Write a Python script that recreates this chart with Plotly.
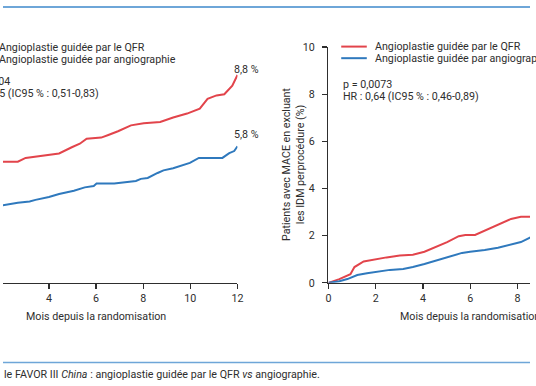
import plotly.graph_objects as go

W, H = 536, 386

# ---- data (months, %) ----
left_qfr_x = [2.0, 2.68, 3.01, 4.43, 4.97, 5.31, 5.60, 6.22, 6.52, 6.93, 7.48, 8.02, 8.72, 9.27, 9.86, 10.40, 10.73, 11.11, 11.44, 11.78, 12.0]
left_qfr_y = [5.14, 5.14, 5.30, 5.49, 5.75, 5.90, 6.11, 6.16, 6.27, 6.43, 6.68, 6.77, 6.82, 7.01, 7.18, 7.39, 7.80, 7.95, 8.00, 8.36, 8.82]

left_angio_x = [2.0, 2.68, 3.18, 3.43, 4.0, 4.43, 5.06, 5.52, 5.90, 6.02, 6.77, 7.19, 7.69, 7.90, 8.19, 8.61, 8.86, 9.27, 9.98, 10.36, 11.36, 11.65, 11.86, 12.0]
left_angio_y = [3.28, 3.40, 3.45, 3.52, 3.64, 3.77, 3.91, 4.05, 4.11, 4.21, 4.21, 4.27, 4.32, 4.41, 4.45, 4.66, 4.77, 4.86, 5.09, 5.30, 5.30, 5.50, 5.59, 5.79]

right_qfr_x = [0, 0.46, 0.93, 1.10, 1.49, 1.98, 2.46, 3.02, 3.57, 4.06, 4.54, 5.02, 5.51, 5.79, 6.20, 6.61, 7.17, 7.72, 8.14, 8.6]
right_qfr_y = [0, 0.16, 0.37, 0.67, 0.91, 1.01, 1.08, 1.16, 1.19, 1.32, 1.53, 1.73, 1.98, 2.03, 2.03, 2.21, 2.48, 2.71, 2.80, 2.80]

right_angio_x = [0, 0.46, 0.80, 1.22, 1.63, 2.05, 2.60, 3.16, 3.57, 4.06, 4.54, 5.09, 5.65, 5.99, 6.61, 7.17, 7.72, 8.14, 8.6]
right_angio_y = [0, 0.07, 0.16, 0.33, 0.41, 0.48, 0.55, 0.59, 0.67, 0.80, 0.95, 1.12, 1.27, 1.32, 1.39, 1.49, 1.62, 1.73, 1.95]

x_ticks = [0, 2, 4, 6, 8, 10, 12]
y_ticks = [0, 2, 4, 6, 8, 10]
series_names = ["Angioplastie guidée par le QFR", "Angioplastie guidée par angiographie"]
end_labels = ["8,8 %", "5,8 %"]

RED = "#e2444b"
BLUE = "#2f79bd"
INK = "#2e2e2e"
FONT = "Roboto"
FS = 10.7

def px(x):
    return x / W

def py(y):
    return 1 - y / H

y_dom = [py(286.5), py(42.5)]

fig = go.Figure()
fig.add_trace(go.Scatter(x=left_qfr_x, y=left_qfr_y, mode="lines", line=dict(color=RED, width=2), xaxis="x", yaxis="y", showlegend=False))
fig.add_trace(go.Scatter(x=left_angio_x, y=left_angio_y, mode="lines", line=dict(color=BLUE, width=2), xaxis="x", yaxis="y", showlegend=False))
fig.add_trace(go.Scatter(x=right_qfr_x, y=right_qfr_y, mode="lines", line=dict(color=RED, width=2), xaxis="x2", yaxis="y2", showlegend=False))
fig.add_trace(go.Scatter(x=right_angio_x, y=right_angio_y, mode="lines", line=dict(color=BLUE, width=2), xaxis="x2", yaxis="y2", showlegend=False))

axis_common = dict(showgrid=False, zeroline=False, showline=True, linecolor=INK, linewidth=1.5,
                   ticks="outside", ticklen=5, tickwidth=1.2, tickcolor=INK,
                   tickfont=dict(family=FONT, size=FS, color=INK))

left_px_per_month = 23.96
left_start = 4 - 46.7 / left_px_per_month
right_px_per_month = 24.05

fig.update_layout(
    width=W, height=H,
    margin=dict(l=0, r=0, t=0, b=0),
    paper_bgcolor="white", plot_bgcolor="rgba(0,0,0,0)",
    font=dict(family=FONT, size=FS, color=INK),
    hovermode=False,
    xaxis=dict(domain=[0, px(238.5)], range=[left_start, 12], tickvals=x_ticks, anchor="y", **axis_common),
    yaxis=dict(domain=y_dom, range=[0, 10], visible=False, anchor="x"),
    xaxis2=dict(domain=[px(331), 1], range=[0, (W - 331) / right_px_per_month], tickvals=x_ticks, anchor="y2", **axis_common),
    yaxis2=dict(domain=y_dom, range=[0, 10], tickvals=y_ticks, anchor="x2", ticklabelstandoff=5, **axis_common),
)

shapes = [
    dict(type="line", xref="paper", yref="paper", x0=0, x1=1, y0=py(1), y1=py(1), line=dict(color="#6ea6d8", width=2)),
    dict(type="line", xref="paper", yref="paper", x0=0, x1=1, y0=py(369), y1=py(369), line=dict(color="#6ea6d8", width=1.5)),
    dict(type="line", xref="paper", yref="paper", x0=px(344), x1=px(370), y0=py(42), y1=py(42), line=dict(color=RED, width=2)),
    dict(type="line", xref="paper", yref="paper", x0=px(344), x1=px(370), y0=py(54), y1=py(54), line=dict(color=BLUE, width=2)),
]
fig.update_layout(shapes=shapes)

ann = []
def txt(x, y, s, anchor="left", **kw):
    d = dict(x=px(x), y=py(y), xref="paper", yref="paper", text=s, showarrow=False,
             xanchor=anchor, yanchor="middle", font=dict(family=FONT, size=FS, color=INK))
    d.update(kw)
    ann.append(d)

# right panel legend and stats
txt(376, 42, series_names[0])
txt(376, 54, series_names[1])
txt(344, 81, "p = 0,0073")
txt(344, 94, "HR : 0,64 (IC95 % : 0,46-0,89)")
# left panel legend and stats (partly cut off at left edge, as in the reference)
txt(-6, 43, series_names[0])
txt(-6, 55, series_names[1])
txt(-45, 78, "p = 0,0004")
txt(-43, 91, "HR : 0,65 (IC95 % : 0,51-0,83)")

# end labels
ann.append(dict(x=12, y=9.05, xref="x", yref="y", text=end_labels[0], showarrow=False, xanchor="left", xshift=-6,
                font=dict(family=FONT, size=FS, color=INK)))
ann.append(dict(x=12, y=6.3, xref="x", yref="y", text=end_labels[1], showarrow=False, xanchor="left", xshift=-6,
                font=dict(family=FONT, size=FS, color=INK)))

# axis titles
ann.append(dict(x=6, y=py(321), xref="x", yref="paper", text="Mois depuis la randomisation", showarrow=False,
                xanchor="center", yanchor="middle", font=dict(family=FONT, size=FS, color=INK)))
ann.append(dict(x=6, y=py(321), xref="x2", yref="paper", text="Mois depuis la randomisation", showarrow=False,
                xanchor="center", yanchor="middle", font=dict(family=FONT, size=FS, color=INK)))
ann.append(dict(x=px(296), y=5, xref="paper", yref="y2", text="Patients avec MACE en excluant<br>les IDM perprocédure (%)",
                showarrow=False, textangle=-90, xanchor="center", yanchor="middle",
                font=dict(family=FONT, size=FS, color=INK)))

# caption
txt(-1, 381, "le FAVOR III <i>China</i> : angioplastie guidée par le QFR <i>vs</i> angiographie.")

fig.update_layout(annotations=ann)
fig.write_html("out.html", config={"displayModeBar": False, "staticPlot": True},
               post_script="document.body.style.margin='0';document.body.style.overflow='hidden';")
